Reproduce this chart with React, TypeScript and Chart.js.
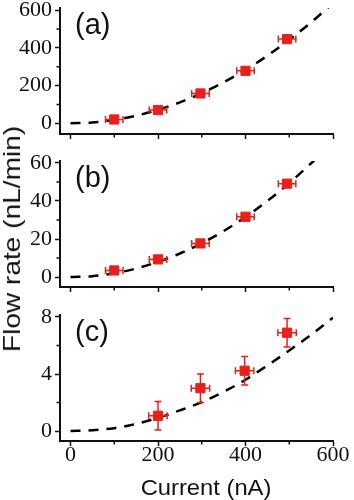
import React, { useEffect, useRef } from "react";
import { Chart, registerables } from "chart.js";

Chart.register(...registerables);

// ---- data ----
const currentA = [100, 200, 297, 400, 495];
const flowA = [20, 70, 158, 278, 446];
const xErrA = [20, 20, 20, 20, 20];
const yErrA = [6, 6, 8, 8, 8];

const currentB = [100, 200, 297, 400, 495];
const flowB = [3.5, 9.3, 17.7, 31.7, 49.1];
const xErrB = [20, 20, 20, 20, 20];
const yErrB = [0.8, 0.8, 0.8, 0.8, 0.8];

const currentC = [200, 297, 398, 495];
const flowC = [1.07, 3.0, 4.23, 6.9];
const xErrC = [21, 21, 21, 21];
const yErrC = [1.0, 1.0, 1.0, 1.0];

const fitCurrent = [0, 50, 100, 150, 200, 250, 300, 350, 400, 450, 500, 550, 600];
const fitA = [0, 4, 18, 40, 71, 111, 159, 217, 283, 358, 443, 535, 637];
const fitB = [0, 0.5, 2, 4.5, 8, 12.4, 17.8, 24.2, 31.6, 40, 49.4, 59.8, 71];
const fitC = [0, 0.06, 0.2, 0.5, 0.93, 1.45, 2.03, 2.75, 3.6, 4.6, 5.65, 6.75, 7.95];

const xTicks = [0, 200, 400, 600];
const xMinor = [100, 300, 500];
const yTicksA = [0, 200, 400, 600];
const yMinorA = [100, 300, 500];
const yTicksB = [0, 20, 40, 60];
const yMinorB = [10, 30, 50];
const yTicksC = [0, 4, 8];
const yMinorC = [2, 6];

const panelLabels = ["(a)", "(b)", "(c)"];
const xTitle = "Current (nA)";
const yTitle = "Flow rate (nL/min)";

const RED = "#e8201c";
const AXIS = "#111111";
const SERIF = "Liberation Serif";
const SANS = "Liberation Sans";

type Panel = {
  label: string;
  xs: number[];
  ys: number[];
  xe: number[];
  ye: number[];
  fit: number[];
  yMin: number;
  yMax: number;
  yTicks: number[];
  yMinor: number[];
  showX: boolean;
  top: number;
  height: number;
};

const panels: Panel[] = [
  { label: panelLabels[0], xs: currentA, ys: flowA, xe: xErrA, ye: yErrA, fit: fitA, yMin: -57, yMax: 611, yTicks: yTicksA, yMinor: yMinorA, showX: false, top: 0, height: 150 },
  { label: panelLabels[1], xs: currentB, ys: flowB, xe: xErrB, ye: yErrB, fit: fitB, yMin: -5.2, yMax: 61, yTicks: yTicksB, yMinor: yMinorB, showX: false, top: 153, height: 150 },
  { label: panelLabels[2], xs: currentC, ys: flowC, xe: xErrC, ye: yErrC, fit: fitC, yMin: -0.7, yMax: 8.14, yTicks: yTicksC, yMinor: yMinorC, showX: true, top: 307, height: 193 },
];

function makePlugins(p: Panel) {
  const errorBars = {
    id: "errorBars",
    beforeDatasetDraw(chart: any, args: any) {
      if (args.index !== 0) return;
      const ctx = chart.ctx;
      const xs = chart.scales.x;
      const ys = chart.scales.y;
      ctx.save();
      ctx.strokeStyle = RED;
      ctx.lineWidth = 1.5;
      const cap = 3.5;
      p.xs.forEach((xv, i) => {
        const yv = p.ys[i];
        const px = xs.getPixelForValue(xv);
        const py = ys.getPixelForValue(yv);
        const x1 = xs.getPixelForValue(xv - p.xe[i]);
        const x2 = xs.getPixelForValue(xv + p.xe[i]);
        const y1 = ys.getPixelForValue(yv - p.ye[i]);
        const y2 = ys.getPixelForValue(yv + p.ye[i]);
        ctx.beginPath();
        ctx.moveTo(x1, py); ctx.lineTo(x2, py);
        ctx.moveTo(x1, py - cap); ctx.lineTo(x1, py + cap);
        ctx.moveTo(x2, py - cap); ctx.lineTo(x2, py + cap);
        ctx.moveTo(px, y1); ctx.lineTo(px, y2);
        ctx.moveTo(px - cap, y1); ctx.lineTo(px + cap, y1);
        ctx.moveTo(px - cap, y2); ctx.lineTo(px + cap, y2);
        ctx.stroke();
      });
      ctx.restore();
    },
  };
  const extras = {
    id: "extras",
    afterDraw(chart: any) {
      const ctx = chart.ctx;
      const xs = chart.scales.x;
      const ys = chart.scales.y;
      const area = chart.chartArea;
      ctx.save();
      ctx.strokeStyle = AXIS;
      ctx.lineWidth = 1.5;
      ctx.beginPath();
      xMinor.forEach((v) => {
        const px = xs.getPixelForValue(v);
        ctx.moveTo(px, area.bottom);
        ctx.lineTo(px, area.bottom + 3.5);
      });
      p.yMinor.forEach((v) => {
        const py = ys.getPixelForValue(v);
        ctx.moveTo(area.left, py);
        ctx.lineTo(area.left - 3.5, py);
      });
      ctx.stroke();
      ctx.fillStyle = AXIS;
      ctx.font = `29px "${SANS}"`;
      ctx.textAlign = "left";
      ctx.textBaseline = "alphabetic";
      ctx.fillText(p.label, area.left + 15, area.top + 26);
      if (p.showX) {
        ctx.save();
        ctx.translate(206, 188);
        ctx.scale(1.08, 1);
        ctx.font = `22px "${SANS}"`;
        ctx.textAlign = "center";
        ctx.fillText(xTitle, 0, 0);
        ctx.restore();
      }
      ctx.restore();
    },
  };
  return [errorBars, extras];
}

function PanelChart({ p }: { p: Panel }) {
  const ref = useRef<HTMLCanvasElement | null>(null);
  useEffect(() => {
    if (!ref.current) return;
    const points = p.xs.map((x, i) => ({ x, y: p.ys[i] }));
    const fitPts = fitCurrent.map((x, i) => ({ x, y: p.fit[i] }));
    const tickFont = { family: SERIF, size: 22, lineHeight: 1.2 };
    const chart = new Chart(ref.current, {
      type: "scatter",
      data: {
        datasets: [
          {
            data: points,
            pointStyle: "rect",
            pointRadius: 6.5,
            backgroundColor: RED,
            borderColor: RED,
            borderWidth: 1,
            showLine: false,
            order: 0,
          } as any,
          {
            type: "line",
            data: fitPts,
            borderColor: "#000",
            borderWidth: 2.5,
            borderDash: [10, 8],
            pointRadius: 0,
            showLine: true,
            fill: false,
            cubicInterpolationMode: "monotone",
            order: 1,
          } as any,
        ],
      },
      options: {
        animation: false,
        responsive: false,
        maintainAspectRatio: false,
        layout: { padding: { top: 8, right: 21, left: 0, bottom: 0 } },
        plugins: { legend: { display: false }, tooltip: { enabled: false } },
        scales: {
          x: {
            type: "linear",
            min: -24,
            max: 600,
            afterBuildTicks: (s: any) => {
              s.ticks = xTicks.map((v) => ({ value: v }));
            },
            afterFit: (s: any) => {
              s.height = p.height - 134;
              s.paddingLeft = 0;
              s.paddingRight = 0;
            },
            grid: { display: true, drawOnChartArea: false, drawTicks: true, tickLength: 5, tickWidth: 1.5, tickColor: AXIS },
            border: { display: true, color: AXIS, width: 2 },
            ticks: {
              display: p.showX,
              color: AXIS,
              padding: -4,
              maxRotation: 0,
              autoSkip: false,
              font: tickFont,
            },
          },
          y: {
            type: "linear",
            min: p.yMin,
            max: p.yMax,
            afterBuildTicks: (s: any) => {
              s.ticks = p.yTicks.map((v) => ({ value: v }));
            },
            afterFit: (s: any) => {
              s.width = 60;
              s.paddingTop = 0;
              s.paddingBottom = 0;
            },
            grid: { display: true, drawOnChartArea: false, drawTicks: true, tickLength: 5, tickWidth: 1.5, tickColor: AXIS },
            border: { display: true, color: AXIS, width: 2 },
            ticks: {
              color: AXIS,
              padding: 3,
              autoSkip: false,
              font: tickFont,
            },
          },
        },
      } as any,
      plugins: makePlugins(p) as any,
    });
    return () => chart.destroy();
  }, [p]);
  return (
    <canvas
      ref={ref}
      width={354}
      height={p.height}
      style={{ position: "absolute", left: 0, top: p.top, width: 354, height: p.height, display: "block" }}
    />
  );
}

export default function App() {
  return (
    <div style={{ position: "absolute", left: 0, top: 0, width: 354, height: 500, background: "#fff", overflow: "hidden" }}>
      {panels.map((p) => (
        <PanelChart key={p.label} p={p} />
      ))}
      <div
        style={{
          position: "absolute",
          left: 12,
          top: 239,
          fontFamily: `"${SANS}", Arial, sans-serif`,
          fontSize: 24,
          lineHeight: "24px",
          color: AXIS,
          whiteSpace: "nowrap",
          transform: "translate(-50%, -50%) rotate(-90deg) scaleX(1.17)",
        }}
      >
        {yTitle}
      </div>
    </div>
  );
}
